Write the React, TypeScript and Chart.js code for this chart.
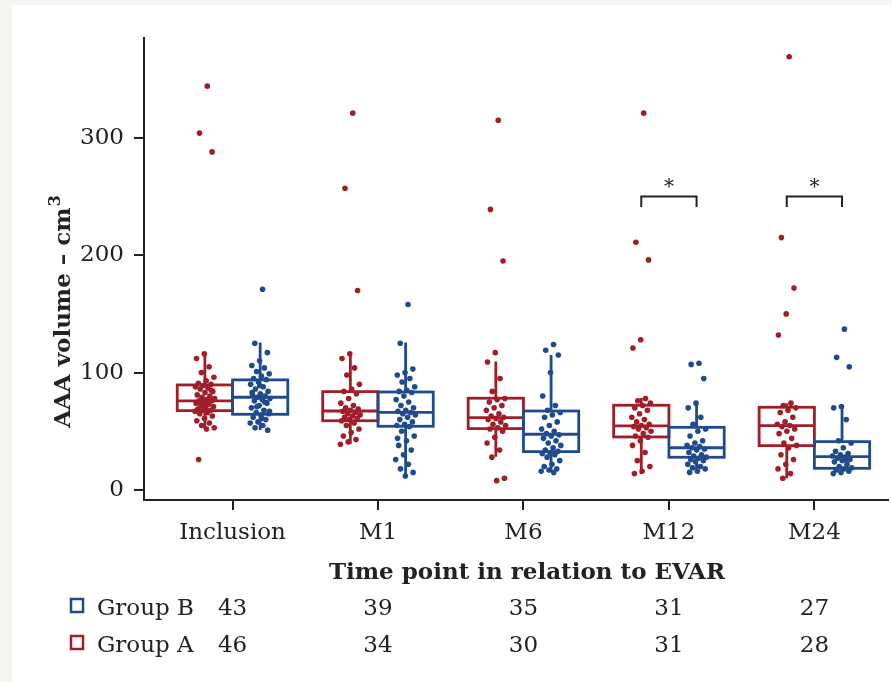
import React, { useEffect, useRef } from "react";
import { Chart, registerables } from "chart.js";

Chart.register(...registerables);

// ---------- data ----------
const categories = ["Inclusion", "M1", "M6", "M12", "M24"];
const yTicks = [0, 100, 200, 300];
const xTitle = "Time point in relation to EVAR";
const yTitle = "AAA volume \u2013 cm";
const yTitleSup = "3";

const countsB = [43, 39, 35, 31, 27];
const countsA = [46, 34, 30, 31, 28];

// Group A (red) individual values per time point
const groupA_Inclusion = [344, 304, 288, 116, 112, 105, 100, 96, 93, 91, 90, 89, 88, 87, 86, 84, 83, 81, 80, 79, 78, 77, 76, 76, 75, 74, 73, 72, 71, 70, 69, 68, 68, 67, 66, 65, 63, 61, 59, 57, 55, 53, 52, 26, 85, 74];
const groupA_M1 = [321, 257, 170, 116, 112, 104, 98, 90, 86, 84, 82, 78, 74, 72, 70, 69, 68, 67, 66, 65, 64, 63, 62, 61, 60, 59, 57, 55, 52, 49, 46, 43, 41, 39];
const groupA_M6 = [315, 239, 195, 117, 109, 95, 84, 78, 77, 75, 72, 70, 68, 65, 63, 62, 61, 60, 58, 56, 55, 53, 52, 50, 45, 40, 34, 28, 10, 8];
const groupA_M12 = [321, 211, 196, 128, 121, 78, 76, 74, 72, 70, 68, 65, 62, 60, 58, 56, 55, 54, 53, 52, 50, 48, 46, 45, 42, 38, 32, 25, 20, 16, 14];
const groupA_M24 = [369, 215, 172, 150, 132, 74, 72, 70, 68, 66, 62, 58, 56, 55, 54, 52, 50, 48, 44, 40, 38, 36, 30, 26, 22, 18, 14, 10];

// Group B (blue) individual values per time point
const groupB_Inclusion = [171, 125, 117, 110, 106, 104, 101, 99, 97, 95, 94, 92, 90, 88, 86, 84, 82, 81, 80, 79, 78, 77, 76, 74, 72, 70, 68, 66, 65, 64, 62, 60, 58, 57, 55, 53, 51, 89, 83, 75, 71, 67, 61];
const groupB_M1 = [158, 125, 103, 100, 98, 95, 92, 88, 85, 84, 83, 80, 77, 75, 72, 70, 68, 67, 66, 65, 64, 62, 60, 58, 56, 55, 54, 50, 46, 42, 38, 34, 30, 26, 22, 18, 15, 12, 44];
const groupB_M6 = [124, 119, 115, 100, 80, 72, 68, 66, 64, 62, 58, 55, 52, 50, 48, 47, 46, 44, 42, 40, 38, 36, 34, 33, 32, 31, 30, 28, 25, 22, 20, 18, 17, 16, 15];
const groupB_M12 = [108, 107, 95, 74, 70, 62, 56, 52, 50, 46, 42, 40, 38, 37, 36, 35, 34, 32, 30, 29, 28, 27, 26, 25, 24, 22, 20, 19, 18, 16, 15];
const groupB_M24 = [137, 113, 105, 71, 70, 60, 42, 40, 36, 33, 31, 30, 29, 28, 27, 26, 25, 24, 22, 20, 19, 18, 17, 16, 15, 14, 26];

// Box statistics
const boxA_q1 = [67.6, 59, 52.3, 45.2, 37.8];
const boxA_median = [76, 67.3, 61.7, 54.6, 54.8];
const boxA_q3 = [89.5, 83.8, 78.2, 72.2, 70.5];
const boxA_whiskerLow = [52, 39.2, 28.4, 13.6, 10];
const boxA_whiskerHigh = [116.8, 116.8, 109.4, 78.4, 73.9];

const boxB_q1 = [64.5, 54.3, 32.7, 27.9, 18.5];
const boxB_median = [79, 66.2, 47.5, 36, 28.4];
const boxB_q3 = [93.8, 83.5, 67.3, 53.4, 41.2];
const boxB_whiskerLow = [51.2, 11.9, 15.6, 15, 14.2];
const boxB_whiskerHigh = [125.6, 125.6, 115, 73, 71];

// significance brackets: category indices, bracket level, tick end level
const sigCategories = [3, 4];
const sigLevel = 250;
const sigDrop = 241;
const sigLabel = "*";

// ---------- styles ----------
const RED = "#a11d27";
const BLUE = "#1f4b8e";
const INK = "#222222";
const FONT = "'DejaVu Serif', serif";
const W = 892;
const H = 682;
const X_MIN = -0.6085;
const X_MAX = 4.506;
const Y_MIN = -8.5;
const Y_MAX = 385;
const OFFSET = 0.19;
const HALF = 0.19;

const groupA = {
  name: "Group A",
  color: RED,
  offset: -OFFSET,
  values: [groupA_Inclusion, groupA_M1, groupA_M6, groupA_M12, groupA_M24],
  q1: boxA_q1, med: boxA_median, q3: boxA_q3, lo: boxA_whiskerLow, hi: boxA_whiskerHigh,
  counts: countsA,
};
const groupB = {
  name: "Group B",
  color: BLUE,
  offset: OFFSET,
  values: [groupB_Inclusion, groupB_M1, groupB_M6, groupB_M12, groupB_M24],
  q1: boxB_q1, med: boxB_median, q3: boxB_q3, lo: boxB_whiskerLow, hi: boxB_whiskerHigh,
  counts: countsB,
};
const groups = [groupA, groupB];

const jitter = (j: number) => ((((j + 1) * 0.6180339887) % 1) - 0.5) * 0.14;

function pointsFor(g: typeof groupA) {
  const pts: { x: number; y: number }[] = [];
  g.values.forEach((arr, i) => {
    arr.forEach((v, j) => pts.push({ x: i + g.offset + jitter(j), y: v }));
  });
  return pts;
}

const bgPlugin = {
  id: "bg",
  beforeDraw(chart: any) {
    const { ctx } = chart;
    ctx.save();
    ctx.fillStyle = "#ffffff";
    ctx.fillRect(0, 0, W, H);
    ctx.fillStyle = "#f6f4f1";
    ctx.fillRect(0, 0, W, 5);
    ctx.fillRect(0, 0, 12, H);
    ctx.restore();
  },
};

const boxPlugin = {
  id: "boxes",
  beforeDatasetsDraw(chart: any) {
    const { ctx } = chart;
    const x = chart.scales.x;
    const y = chart.scales.y;
    ctx.save();
    ctx.lineWidth = 2.8;
    groups.forEach((g) => {
      ctx.strokeStyle = g.color;
      for (let i = 0; i < categories.length; i++) {
        const c = i + g.offset;
        const xl = x.getPixelForValue(c - HALF);
        const xr = x.getPixelForValue(c + HALF);
        const xc = x.getPixelForValue(c);
        const yq1 = y.getPixelForValue(g.q1[i]);
        const yq3 = y.getPixelForValue(g.q3[i]);
        const ym = y.getPixelForValue(g.med[i]);
        const ylo = y.getPixelForValue(g.lo[i]);
        const yhi = y.getPixelForValue(g.hi[i]);
        ctx.beginPath();
        ctx.moveTo(xc, yq3);
        ctx.lineTo(xc, yhi);
        ctx.moveTo(xc, yq1);
        ctx.lineTo(xc, ylo);
        ctx.stroke();
        ctx.strokeRect(xl, yq3, xr - xl, yq1 - yq3);
        ctx.beginPath();
        ctx.moveTo(xl, ym);
        ctx.lineTo(xr, ym);
        ctx.stroke();
      }
    });
    ctx.restore();
  },
  afterDraw(chart: any) {
    const { ctx } = chart;
    const x = chart.scales.x;
    const y = chart.scales.y;
    ctx.save();
    // significance brackets
    ctx.strokeStyle = INK;
    ctx.lineWidth = 2;
    ctx.fillStyle = INK;
    sigCategories.forEach((i) => {
      const xl = x.getPixelForValue(i - OFFSET);
      const xr = x.getPixelForValue(i + OFFSET);
      const yt = y.getPixelForValue(sigLevel);
      const yb = y.getPixelForValue(sigDrop);
      ctx.beginPath();
      ctx.moveTo(xl, yb);
      ctx.lineTo(xl, yt);
      ctx.lineTo(xr, yt);
      ctx.lineTo(xr, yb);
      ctx.stroke();
      ctx.font = `20px ${FONT}`;
      ctx.textAlign = "center";
      ctx.textBaseline = "alphabetic";
      ctx.fillText(sigLabel, (xl + xr) / 2, yt - 4);
    });

    // y title (rotated)
    ctx.fillStyle = INK;
    ctx.font = `bold 23px ${FONT}`;
    const mainW = ctx.measureText(yTitle).width;
    ctx.font = `bold 16px ${FONT}`;
    const supW = ctx.measureText(yTitleSup).width;
    const total = mainW + supW;
    ctx.translate(70, 312);
    ctx.rotate(-Math.PI / 2);
    ctx.textAlign = "left";
    ctx.textBaseline = "alphabetic";
    ctx.font = `bold 23px ${FONT}`;
    ctx.fillText(yTitle, -total / 2, 0);
    ctx.font = `bold 16px ${FONT}`;
    ctx.fillText(yTitleSup, -total / 2 + mainW + 1, -10);
    ctx.setTransform(1, 0, 0, 1, 0, 0);

    // x title
    ctx.font = `bold 23px ${FONT}`;
    ctx.textAlign = "center";
    ctx.fillText(xTitle, 527, 579);

    // count table
    const rows = [groupB, groupA];
    rows.forEach((g, r) => {
      const base = 615 + r * 37;
      ctx.strokeStyle = g.color;
      ctx.lineWidth = 2.5;
      ctx.strokeRect(71, base - 16, 12, 13);
      ctx.fillStyle = INK;
      ctx.font = `23px ${FONT}`;
      ctx.textAlign = "left";
      ctx.fillText(g.name, 97, base);
      ctx.textAlign = "center";
      g.counts.forEach((n, i) => {
        ctx.fillText(String(n), x.getPixelForValue(i), base);
      });
    });
    ctx.restore();
  },
};

export default function App() {
  const ref = useRef<HTMLCanvasElement | null>(null);
  useEffect(() => {
    document.body.style.margin = "0";
    const canvas = ref.current!;
    const chart = new Chart(canvas, {
      type: "scatter",
      data: {
        datasets: groups.map((g) => ({
          label: g.name,
          data: pointsFor(g),
          backgroundColor: g.color,
          borderWidth: 0,
          pointRadius: 2.8,
          showLine: false,
        })),
      },
      options: {
        responsive: false,
        animation: false,
        events: [],
        layout: { padding: { top: 38, left: 0, right: 0, bottom: 0 } },
        plugins: { legend: { display: false }, tooltip: { enabled: false } },
        scales: {
          x: {
            type: "linear",
            min: X_MIN,
            max: X_MAX,
            afterBuildTicks: (s: any) => {
              s.ticks = categories.map((_, i) => ({ value: i }));
            },
            afterFit: (s: any) => {
              s.height = H - 500;
            },
            ticks: {
              callback: (v: any) => categories[v as number] ?? "",
              font: { size: 23, family: FONT },
              color: INK,
              padding: 9,
              maxRotation: 0,
              autoSkip: false,
            },
            grid: { drawOnChartArea: false, drawTicks: true, tickLength: 10, color: INK, lineWidth: 2 },
            border: { display: true, color: INK, width: 2 },
          },
          y: {
            type: "linear",
            min: Y_MIN,
            max: Y_MAX,
            afterBuildTicks: (s: any) => {
              s.ticks = yTicks.map((v) => ({ value: v }));
            },
            afterFit: (s: any) => {
              s.width = 144;
            },
            ticks: {
              font: { size: 23, family: FONT },
              color: INK,
              padding: 10,
            },
            grid: { drawOnChartArea: false, drawTicks: true, tickLength: 10, color: INK, lineWidth: 2 },
            border: { display: true, color: INK, width: 2 },
          },
        },
      },
      plugins: [bgPlugin, boxPlugin],
    } as any);
    return () => chart.destroy();
  }, []);
  return <canvas ref={ref} width={W} height={H} style={{ display: "block" }} />;
}
